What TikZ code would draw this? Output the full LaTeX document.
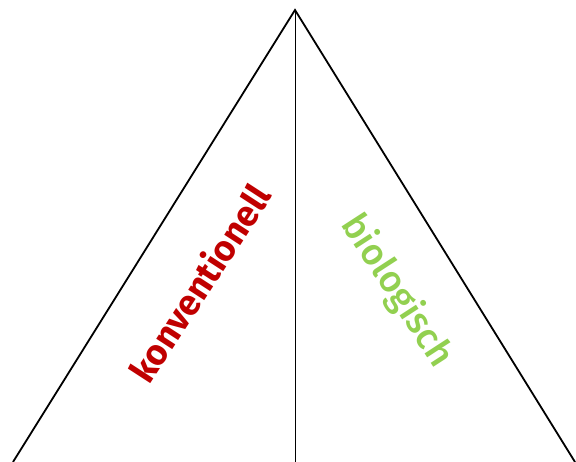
\documentclass[tikz,border=0pt]{standalone}
\usepackage{fontspec}
\setmainfont{Fira Sans}
\newfontfamily\medfont{Fira Sans Medium}
\definecolor{konvred}{HTML}{C00000}
\definecolor{biogreen}{HTML}{92D050}
\begin{document}
\begin{tikzpicture}[x=1pt,y=-1pt,
  edge/.style={line width=1.8pt,black},
  midline/.style={line width=1pt,black},
  lab/.style={inner sep=0pt}]
\useasboundingbox (0,0) rectangle (576,462);
\coordinate (apex) at (295,10);
\coordinate (bl) at (13,462);
\coordinate (br) at (575,462);
\coordinate (bm) at (295,462);
\draw[edge,line join=miter] (bl) -- (apex) -- (br);
\draw[midline] (apex) -- (bm);
\node[lab,rotate=57,text=konvred,font=\fontsize{36}{36}\selectfont\bfseries] (konv) at (199,283) {konventionell};
\node[lab,rotate=-57,text=biogreen,font=\fontsize{37}{37}\medfont] (bio) at (397,291) {biologisch};
\end{tikzpicture}
\end{document}
